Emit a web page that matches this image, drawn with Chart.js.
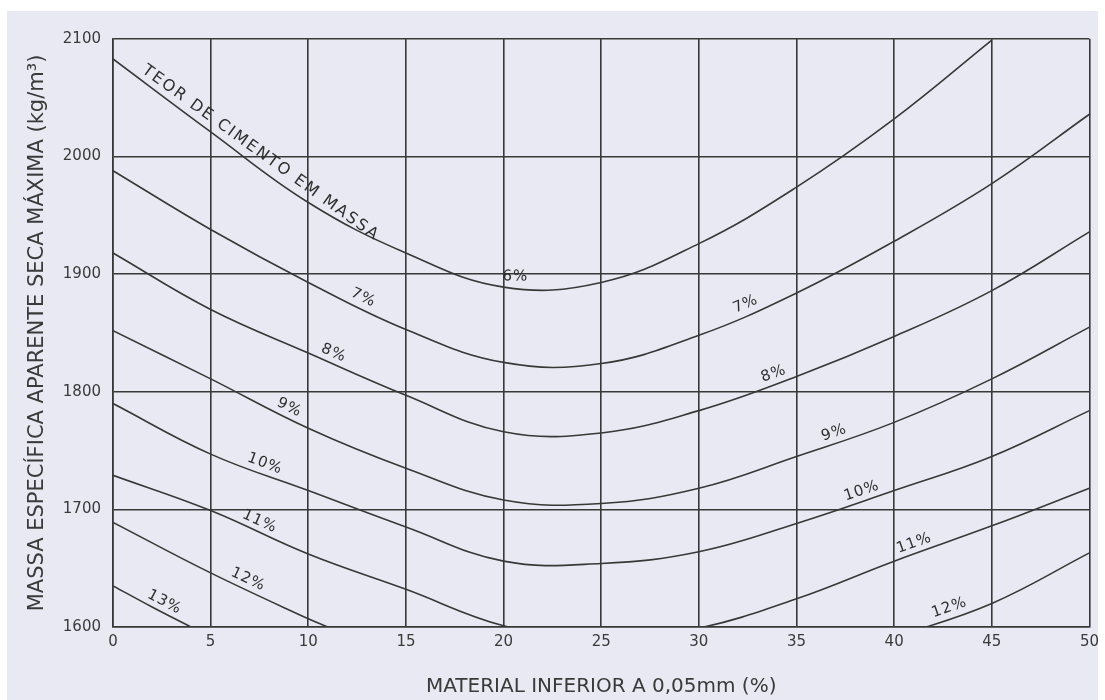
<!DOCTYPE html>
<html>
<head>
<meta charset="utf-8">
<script src="https://cdn.jsdelivr.net/npm/chart.js@4.4.1/dist/chart.umd.min.js"></script>
<style>
  body { margin: 0; background: #fff; }
  canvas { display: block; }
</style>
</head>
<body>
<canvas id="grafico" width="1105" height="700"></canvas>
<script>
// Teor de cimento de cada curva
const teores = ["6%", "7%", "8%", "9%", "10%", "11%", "12%", "13%"];

// Eixos
const ticksX = [0, 5, 10, 15, 20, 25, 30, 35, 40, 45, 50];
const ticksY = [1600, 1700, 1800, 1900, 2000, 2100];

const x6 = [0, 5, 10, 15, 20, 25, 30, 35, 40, 45];
const y6 = [2083, 2021, 1961, 1918, 1889, 1893, 1926, 1974, 2032, 2099];

const x7 = [0, 5, 10, 15, 20, 25, 30, 35, 40, 45, 50];
const y7 = [1988, 1938, 1893, 1853, 1825, 1824, 1848, 1884, 1928, 1977, 2036];

const x8 = [0, 5, 10, 15, 20, 25, 30, 35, 40, 45, 50];
const y8 = [1918, 1870, 1833, 1797, 1766, 1765, 1784, 1813, 1847, 1886, 1936];

const x9 = [0, 5, 10, 15, 20, 25, 30, 35, 40, 45, 50];
const y9 = [1852, 1811, 1769, 1735, 1708, 1705, 1718, 1745, 1774, 1811, 1855];

const x10 = [0, 5, 10, 15, 20, 25, 30, 35, 40, 45, 50];
const y10 = [1790, 1747, 1716, 1685, 1656, 1654, 1664, 1688, 1716, 1745, 1784];

const x11 = [0, 5, 10, 15, 20, 25, 30, 35, 40, 45, 50];
const y11 = [1729, 1699, 1662, 1632, 1601, 1588, 1599, 1624, 1656, 1686, 1718];

const x12 = [0, 5, 10, 11, 12, 26, 40, 45, 50];
const y12 = [1689, 1646, 1607, 1600, 1593, null, 1591, 1620, 1663];

const x13 = [0, 2, 4, 5];
const y13 = [1635, 1617, 1600, 1592];

const curvasX = [x6, x7, x8, x9, x10, x11, x12, x13];
const curvasY = [y6, y7, y8, y9, y10, y11, y12, y13];

// Rótulos escritos sobre as curvas (curva = índice em teores, x = posição no eixo)
const rotulos = [
  { texto: "TEOR DE CIMENTO EM MASSA", curva: 0, x: 7.2 },
  { texto: "6%", curva: 0, x: 20.6 },
  { texto: "7%", curva: 1, x: 12.6 },
  { texto: "7%", curva: 1, x: 32.6 },
  { texto: "8%", curva: 2, x: 11.1 },
  { texto: "8%", curva: 2, x: 34 },
  { texto: "9%", curva: 3, x: 8.8 },
  { texto: "9%", curva: 3, x: 37.1 },
  { texto: "10%", curva: 4, x: 7.6 },
  { texto: "10%", curva: 4, x: 38.5 },
  { texto: "11%", curva: 5, x: 7.3 },
  { texto: "11%", curva: 5, x: 41.2 },
  { texto: "12%", curva: 6, x: 6.7 },
  { texto: "12%", curva: 6, x: 43 },
  { texto: "13%", curva: 7, x: 2.4 }
];

const corLinha = "#383838";
const fonte = "'DejaVu Sans', sans-serif";

//Interpolação linear de uma curva num valor de x
const interpola = (xs, ys, x) => {
  for (let i = 1; i < xs.length; i++) {
    if (x <= xs[i] && ys[i] !== null && ys[i - 1] !== null) {
      const t = (x - xs[i - 1]) / (xs[i] - xs[i - 1]);
      return ys[i - 1] + t * (ys[i] - ys[i - 1]);
    }
  }
  return ys[ys.length - 1];
};

//Fundo do papel digitalizado
const fundo = {
  id: "fundo",
  beforeDraw(chart) {
    const ctx = chart.ctx;
    ctx.save();
    ctx.fillStyle = "#ffffff";
    ctx.fillRect(0, 0, chart.width, chart.height);
    ctx.fillStyle = "#e9e9f3";
    ctx.fillRect(7, 11, 1091, chart.height - 11);
    ctx.restore();
  }
};

//Textos inclinados ao longo das curvas
const textos = {
  id: "textos",
  afterDatasetsDraw(chart) {
    const ctx = chart.ctx;
    const sx = chart.scales.x;
    const sy = chart.scales.y;
    rotulos.forEach((r) => {
      const xs = curvasX[r.curva];
      const ys = curvasY[r.curva];
      const x1 = sx.getPixelForValue(r.x - 0.8);
      const x2 = sx.getPixelForValue(r.x + 0.8);
      const y1 = sy.getPixelForValue(interpola(xs, ys, r.x - 0.8));
      const y2 = sy.getPixelForValue(interpola(xs, ys, r.x + 0.8));
      const ang = Math.atan2(y2 - y1, x2 - x1);
      const grande = r.texto.length > 4;
      const dist = grande ? 12 : 10;
      const px = sx.getPixelForValue(r.x) + Math.sin(ang) * dist;
      const py = sy.getPixelForValue(interpola(xs, ys, r.x)) - Math.cos(ang) * dist;
      ctx.save();
      ctx.translate(px, py);
      ctx.rotate(ang);
      ctx.fillStyle = "#2e2e2e";
      ctx.font = (grande ? "16px " : "15px ") + fonte;
      ctx.letterSpacing = grande ? "2px" : "1px";
      ctx.textAlign = "center";
      ctx.textBaseline = "middle";
      ctx.fillText(r.texto, 0, 0);
      ctx.restore();
    });
  }
};

const datasets = teores.map((t, i) => ({
  label: t,
  data: curvasX[i].map((x, j) => ({ x: x, y: curvasY[i][j] })),
  borderColor: corLinha,
  borderWidth: 1.6,
  pointRadius: 0,
  tension: 0.4,
  spanGaps: false,
  clip: 0,
  fill: false
}));

const ctx = document.getElementById("grafico").getContext("2d");
const chart = new Chart(ctx, {
  type: "line",
  data: { datasets: datasets },
  options: {
    responsive: false,
    animation: false,
    layout: { padding: { top: 39, right: 13, bottom: 0, left: 0 } },
    plugins: {
      legend: { display: false },
      tooltip: { enabled: false }
    },
    scales: {
      x: {
        type: "linear",
        min: 0,
        max: 50,
        afterBuildTicks: (s) => {
          s.ticks = ticksX.map((v) => ({ value: v }));
        },
        afterFit: (s) => {
          s.height = 73;
        },
        grid: { color: corLinha, lineWidth: 1.6, drawTicks: false },
        border: { color: corLinha, width: 1.6 },
        ticks: {
          color: "#3a3a3a",
          font: { family: fonte, size: 15 },
          padding: 6,
          maxRotation: 0,
          autoSkip: false,
          callback: (v) => String(v)
        },
        title: {
          display: true,
          text: "MATERIAL INFERIOR A 0,05mm (%)",
          color: "#3a3a3a",
          font: { family: fonte, size: 20 },
          padding: { top: 0, bottom: 1 }
        }
      },
      y: {
        type: "linear",
        min: 1600,
        max: 2100,
        afterBuildTicks: (s) => {
          s.ticks = ticksY.map((v) => ({ value: v }));
        },
        afterFit: (s) => {
          s.width = 113;
        },
        grid: { color: corLinha, lineWidth: 1.6, drawTicks: false },
        border: { color: corLinha, width: 1.6 },
        ticks: {
          color: "#3a3a3a",
          font: { family: fonte, size: 15 },
          padding: 12,
          callback: (v) => String(v)
        },
        title: {
          display: true,
          text: "MASSA ESPECÍFICA APARENTE SECA MÁXIMA (kg/m³)",
          color: "#3a3a3a",
          font: { family: fonte, size: 21 },
          padding: { top: 25, bottom: 0 }
        }
      }
    }
  },
  plugins: [fundo, textos]
});
</script>
</body>
</html>
